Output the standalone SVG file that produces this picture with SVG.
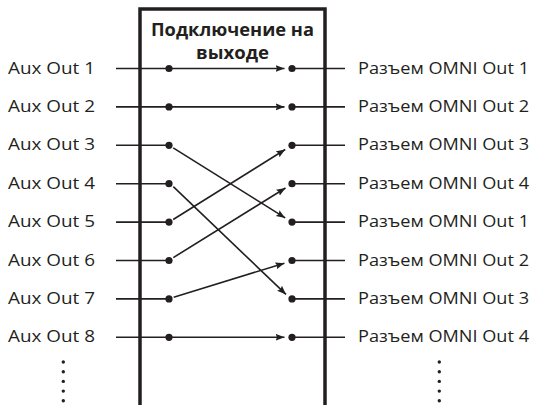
<svg xmlns="http://www.w3.org/2000/svg" width="533" height="405" viewBox="0 0 533 405">
<style>
.lbl{font-family:"Open Sans","Liberation Sans",sans-serif;font-size:16px;fill:#231f20}
.ttl{font-family:"Open Sans","Liberation Sans",sans-serif;font-size:17px;font-weight:bold;fill:#231f20;text-anchor:middle}
.frame{fill:none;stroke:#231f20;stroke-width:3.5}
.wire{fill:none;stroke:#231f20;stroke-width:1.6}
.arr{fill:none;stroke:#231f20;stroke-width:1.6;marker-end:url(#ah)}
.dot{fill:#231f20}
</style>
<defs>
<marker id="ah" markerUnits="userSpaceOnUse" markerWidth="10" markerHeight="8" refX="9" refY="3.5" orient="auto">
<path d="M0,0 L9,3.5 L0,7 L1.5,3.5 z" fill="#231f20"/>
</marker>
</defs>
<rect width="533" height="405" fill="#fff"/>
<g id="box">
<path class="frame" d="M140,405 V9 H325 V405"/>
<text class="ttl" x="232.5" y="35.5" textLength="163" lengthAdjust="spacingAndGlyphs">Подключение на</text>
<text class="ttl" x="232.5" y="58.5" textLength="73" lengthAdjust="spacingAndGlyphs">выходе</text>
</g>
<g id="inputs">
<text class="lbl" x="8" y="73.5" textLength="87" lengthAdjust="spacingAndGlyphs">Aux Out 1</text>
<text class="lbl" x="8" y="111.9" textLength="87" lengthAdjust="spacingAndGlyphs">Aux Out 2</text>
<text class="lbl" x="8" y="150.3" textLength="87" lengthAdjust="spacingAndGlyphs">Aux Out 3</text>
<text class="lbl" x="8" y="188.7" textLength="87" lengthAdjust="spacingAndGlyphs">Aux Out 4</text>
<text class="lbl" x="8" y="227.1" textLength="87" lengthAdjust="spacingAndGlyphs">Aux Out 5</text>
<text class="lbl" x="8" y="265.5" textLength="87" lengthAdjust="spacingAndGlyphs">Aux Out 6</text>
<text class="lbl" x="8" y="303.9" textLength="87" lengthAdjust="spacingAndGlyphs">Aux Out 7</text>
<text class="lbl" x="8" y="342.3" textLength="87" lengthAdjust="spacingAndGlyphs">Aux Out 8</text>
<g class="dot"><circle cx="63.3" cy="362" r="1.7"/><circle cx="63.3" cy="371.7" r="1.7"/><circle cx="63.3" cy="381.4" r="1.7"/><circle cx="63.3" cy="391.1" r="1.7"/><circle cx="63.3" cy="400.8" r="1.7"/></g>
</g>
<g id="outputs">
<text class="lbl" x="358" y="73.5" textLength="171" lengthAdjust="spacingAndGlyphs">Разъем OMNI Out 1</text>
<text class="lbl" x="358" y="111.9" textLength="171" lengthAdjust="spacingAndGlyphs">Разъем OMNI Out 2</text>
<text class="lbl" x="358" y="150.3" textLength="171" lengthAdjust="spacingAndGlyphs">Разъем OMNI Out 3</text>
<text class="lbl" x="358" y="188.7" textLength="171" lengthAdjust="spacingAndGlyphs">Разъем OMNI Out 4</text>
<text class="lbl" x="358" y="227.1" textLength="171" lengthAdjust="spacingAndGlyphs">Разъем OMNI Out 1</text>
<text class="lbl" x="358" y="265.5" textLength="171" lengthAdjust="spacingAndGlyphs">Разъем OMNI Out 2</text>
<text class="lbl" x="358" y="303.9" textLength="171" lengthAdjust="spacingAndGlyphs">Разъем OMNI Out 3</text>
<text class="lbl" x="358" y="342.3" textLength="171" lengthAdjust="spacingAndGlyphs">Разъем OMNI Out 4</text>
<g class="dot"><circle cx="439.3" cy="362" r="1.7"/><circle cx="439.3" cy="371.7" r="1.7"/><circle cx="439.3" cy="381.4" r="1.7"/><circle cx="439.3" cy="391.1" r="1.7"/><circle cx="439.3" cy="400.8" r="1.7"/></g>
</g>
<g id="connectors">
<g class="wire">
<path d="M116,68.5 H169 M116,106.9 H169 M116,145.3 H169 M116,183.7 H169 M116,222.1 H169 M116,260.5 H169 M116,298.9 H169 M116,337.3 H169"/>
<path d="M292,68.5 H345 M292,106.9 H345 M292,145.3 H345 M292,183.7 H345 M292,222.1 H345 M292,260.5 H345 M292,298.9 H345 M292,337.3 H345"/>
</g>
<path class="arr" d="M169,68.5 H284.5"/>
<path class="arr" d="M169,106.9 H284.5"/>
<path class="arr" d="M169,337.3 H284.5"/>
<path class="arr" d="M173.2,147.9 L285.2,217.9"/>
<path class="arr" d="M173.3,186.7 L286,294.4"/>
<path class="arr" d="M173.2,219.5 L285.2,149.5"/>
<path class="arr" d="M173.3,257.6 L285.5,188"/>
<path class="arr" d="M173.7,297.2 L284.4,263.2"/>
<g class="dot">
<circle cx="169" cy="68.5" r="3.6"/><circle cx="169" cy="106.9" r="3.6"/><circle cx="169" cy="145.3" r="3.6"/><circle cx="169" cy="183.7" r="3.6"/><circle cx="169" cy="222.1" r="3.6"/><circle cx="169" cy="260.5" r="3.6"/><circle cx="169" cy="298.9" r="3.6"/><circle cx="169" cy="337.3" r="3.6"/>
<circle cx="292" cy="68.5" r="3.6"/><circle cx="292" cy="106.9" r="3.6"/><circle cx="292" cy="145.3" r="3.6"/><circle cx="292" cy="183.7" r="3.6"/><circle cx="292" cy="222.1" r="3.6"/><circle cx="292" cy="260.5" r="3.6"/><circle cx="292" cy="298.9" r="3.6"/><circle cx="292" cy="337.3" r="3.6"/>
</g>
</g>
</svg>
